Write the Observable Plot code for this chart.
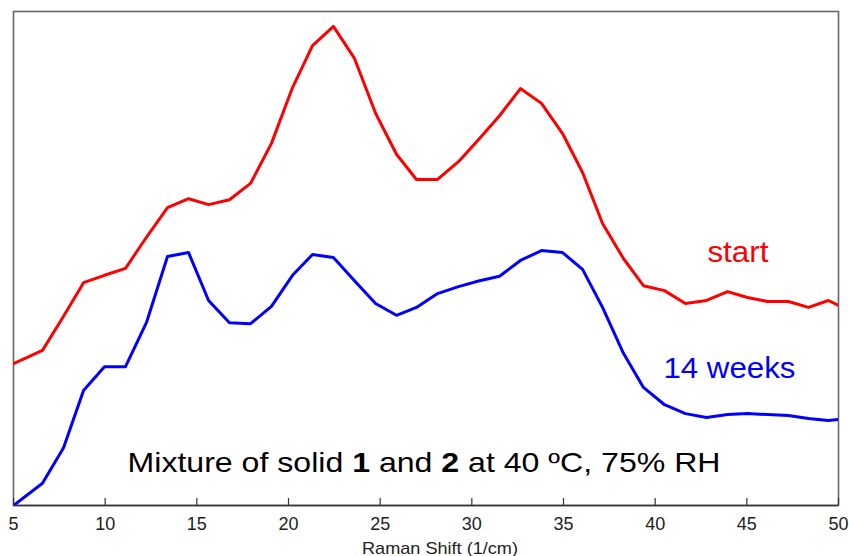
<!DOCTYPE html>
<html>
<head>
<meta charset="utf-8">
<script src="https://cdn.jsdelivr.net/npm/d3@7"></script>
<script src="https://cdn.jsdelivr.net/npm/@observablehq/plot@0.6"></script>
<style>
  html, body { margin: 0; padding: 0; background: #fff; }
  #chart svg { display: block; }
</style>
</head>
<body>
<div id="chart"></div>
<script>
// Raman shift positions (1/cm)
const shift = [5.00, 6.58, 7.73, 8.82, 9.96, 11.11, 12.25, 13.40, 14.55, 15.64, 16.78, 17.93, 19.07, 20.22, 21.31, 22.45, 23.60, 24.75, 25.89, 26.98, 28.13, 29.27, 30.42, 31.51, 32.65, 33.80, 34.95, 36.04, 37.13, 38.27, 39.36, 40.51, 41.65, 42.80, 43.95, 45.04, 46.13, 47.27, 48.36, 49.45, 50.00];
// Intensity (arbitrary units)
const startValues = [28.7, 31.4, 38.3, 45.1, 46.6, 48.0, 54.3, 60.3, 62.1, 60.9, 61.9, 65.2, 73.3, 84.6, 93.1, 97.0, 90.5, 79.4, 71.1, 66.0, 66.0, 69.6, 74.3, 78.9, 84.4, 81.4, 75.3, 67.4, 57.1, 50.0, 44.5, 43.5, 40.9, 41.5, 43.3, 42.1, 41.3, 41.3, 40.1, 41.5, 40.5];
const weeks14Values = [0.0, 4.5, 11.7, 23.3, 28.1, 28.1, 37.0, 50.4, 51.2, 41.5, 37.0, 36.8, 40.3, 46.6, 50.8, 50.2, 45.5, 40.9, 38.5, 40.1, 42.9, 44.3, 45.5, 46.4, 49.6, 51.6, 51.2, 47.8, 40.1, 30.8, 23.9, 20.4, 18.6, 17.8, 18.4, 18.6, 18.4, 18.2, 17.6, 17.2, 17.4];
const xTicks = [5, 10, 15, 20, 25, 30, 35, 40, 45, 50];
const seriesNames = ["start", "14 weeks"];
const xLabel = "Raman Shift (1/cm)";
const caption = "Mixture of solid 1 and 2 at 40 ºC, 75% RH";

const startData = shift.map((x, i) => ({x, y: startValues[i]}));
const weeksData = shift.map((x, i) => ({x, y: weeks14Values[i]}));

const font = "'Liberation Sans', Arial, sans-serif";

const plot = Plot.plot({
  width: 849,
  height: 556,
  marginLeft: 13,
  marginRight: 11,
  marginTop: 11,
  marginBottom: 51,
  style: {fontFamily: font, background: "#fff"},
  x: {domain: [5, 50], ticks: xTicks, label: null},
  y: {domain: [0, 100], axis: null},
  marks: [
    Plot.frame({stroke: "#666", strokeWidth: 1.6}),
    Plot.line(startData, {x: "x", y: "y", stroke: "#ff0000", strokeWidth: 3, clip: true}),
    Plot.line(weeksData, {x: "x", y: "y", stroke: "#0000ff", strokeWidth: 3, clip: true}),
    Plot.ruleY([0], {stroke: "#333", strokeWidth: 1.6}),
    // inward tick marks
    Plot.axisX({ticks: xTicks, tickSize: 7, dy: -7, text: null, label: null, stroke: "#333", strokeWidth: 1.2}),
    // tick labels + axis title
    Plot.axisX({ticks: xTicks, tickSize: 0, tickPadding: 12, fontSize: 18, fill: "#222",
      label: xLabel, labelAnchor: "center", labelArrow: "none", labelOffset: 48}),
    Plot.text([seriesNames[0]], {x: 42.85, y: 49.2, text: d => d, textAnchor: "start", lineAnchor: "bottom", fill: "#ff0000", fontSize: 29, fontFamily: font}),
    Plot.text([seriesNames[1]], {x: 40.45, y: 25.9, text: d => d, textAnchor: "start", lineAnchor: "bottom", fill: "#0000ff", fontSize: 29, fontFamily: font}),
    Plot.text([caption], {x: 11.22, y: 6.7, text: d => d, textAnchor: "start", lineAnchor: "bottom", fill: "#000", fontSize: 28, fontFamily: font})
  ]
});

document.getElementById("chart").appendChild(plot);

// Bold the compound numbers in the caption; match the reference text widths
d3.select(plot).selectAll("text").each(function() {
  const t = this.textContent;
  const el = d3.select(this);
  if (t === caption) {
    const parts = ["Mixture of solid ", "1", " and ", "2", " at 40 ºC, 75% RH"];
    el.text(null);
    parts.forEach((p, i) => {
      el.append("tspan").attr("font-weight", i === 1 || i === 3 ? "bold" : null).text(p);
    });
    el.attr("textLength", 593).attr("lengthAdjust", "spacingAndGlyphs");
  } else if (t === seriesNames[0]) {
    el.attr("textLength", 61).attr("lengthAdjust", "spacingAndGlyphs");
  } else if (t === seriesNames[1]) {
    el.attr("textLength", 132).attr("lengthAdjust", "spacingAndGlyphs");
  } else if (t === xLabel) {
    el.attr("font-size", 17).attr("fill", "#222")
      .attr("textLength", 156).attr("lengthAdjust", "spacingAndGlyphs")
      .attr("transform", (el.attr("transform") || "") + " translate(14,0)");
  }
});
</script>
</body>
</html>
